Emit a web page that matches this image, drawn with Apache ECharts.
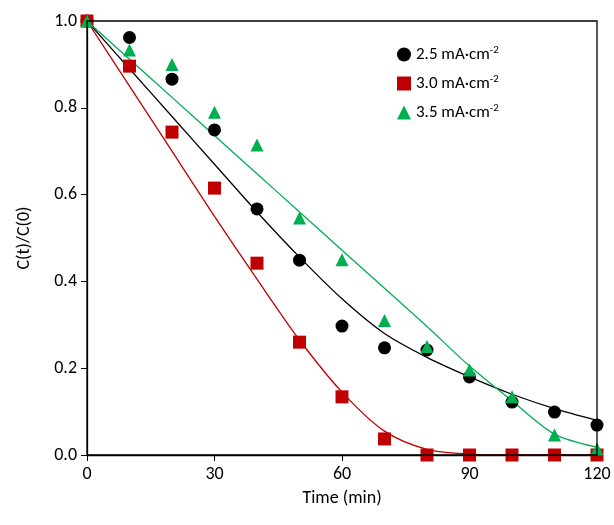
<!DOCTYPE html>
<html><head><meta charset="utf-8">
<script src="https://cdn.jsdelivr.net/npm/echarts@6/dist/echarts.min.js"></script>
<style>html,body{margin:0;background:#fff}#c{width:614px;height:525px}</style>
</head><body><div id="c"></div>
<script>
var times = [0, 10, 20, 30, 40, 50, 60, 70, 80, 90, 100, 110, 120];
var obs25 = [1.0, 0.962, 0.866, 0.749, 0.567, 0.449, 0.297, 0.247, 0.242, 0.180, 0.122, 0.099, 0.069];
var obs30 = [1.0, 0.896, 0.744, 0.615, 0.442, 0.260, 0.134, 0.037, 0.0, 0.0, 0.0, 0.0, 0.0];
var obs35 = [1.0, 0.933, 0.900, 0.790, 0.714, 0.546, 0.450, 0.310, 0.250, 0.196, 0.134, 0.046, 0.014];
var fit25 = [1.0, 0.89, 0.78, 0.67, 0.56, 0.456, 0.36, 0.28, 0.225, 0.18, 0.14, 0.107, 0.08];
var fit30 = [1.0, 0.85, 0.70, 0.55, 0.405, 0.265, 0.145, 0.055, 0.013, 0.002, 0.0, 0.0, 0.0];
var fit35 = [1.0, 0.912, 0.824, 0.736, 0.648, 0.56, 0.472, 0.384, 0.296, 0.205, 0.125, 0.048, 0.018];
var names = ['2.5', '3.0', '3.5'];
var colors = ['#000000', '#c00000', '#00b050'];
var symbols = ['circle', 'rect', 'triangle'];

function pairs(ys) { return times.map(function (t, i) { return [t, ys[i]]; }); }

var font = 'Carlito, Lato, sans-serif';
var obs = [obs25, obs30, obs35], fits = [fit25, fit30, fit35];
var series = [];
for (var k = 0; k < 3; k++) {
  series.push({ name: names[k], type: 'line', data: pairs(fits[k]), smooth: 0.3, showSymbol: false,
    lineStyle: { color: colors[k], width: 1.3 }, silent: true, z: 2 });
}
for (var k = 0; k < 3; k++) {
  series.push({ name: names[k] + ' mA·cm-2', type: 'scatter', data: pairs(obs[k]), symbol: symbols[k],
    symbolSize: 13, itemStyle: { color: colors[k], opacity: 1 }, z: 3 });
}

var chart = echarts.init(document.getElementById('c'));
chart.setOption({
  animation: false,
  grid: { left: 87, right: 17, top: 21, bottom: 70 },
  legend: {
    data: names.map(function (n) { return n + ' mA·cm-2'; }),
    orient: 'vertical', left: 392, top: 40, itemGap: 11, itemWidth: 14, itemHeight: 14,
    itemStyle: { opacity: 1 },
    formatter: function (n) { return '{a|' + n.replace('-2', '') + '}{s|-2}'; },
    textStyle: { rich: { a: { fontSize: 17, fontFamily: font, color: '#000' },
      s: { fontSize: 11, fontFamily: font, color: '#000', verticalAlign: 'top', padding: [0, 0, 8, 0] } } }
  },
  xAxis: {
    type: 'value', min: 0, max: 120, interval: 30, name: 'Time (min)', nameLocation: 'middle', nameGap: 34,
    nameTextStyle: { fontSize: 18, fontFamily: font, color: '#000' },
    axisLine: { onZero: false, lineStyle: { color: '#000', width: 1.3 } },
    axisTick: { length: 6, lineStyle: { color: '#000' } },
    axisLabel: { fontSize: 18, fontFamily: font, color: '#000', margin: 10 },
    splitLine: { show: false }
  },
  yAxis: {
    type: 'value', min: 0, max: 1, interval: 0.2, name: 'C(t)/C(0)', nameLocation: 'middle', nameGap: 54,
    nameTextStyle: { fontSize: 18, fontFamily: font, color: '#000' },
    axisLine: { show: true, onZero: false, lineStyle: { color: '#000', width: 1.3 } },
    axisTick: { show: true, length: 6, lineStyle: { color: '#000' } },
    axisLabel: { fontSize: 18, fontFamily: font, color: '#000', margin: 10, formatter: function (v) { return v.toFixed(1); } },
    splitLine: { show: false }
  },
  graphic: [{ type: 'rect', shape: { x: 87, y: 21, width: 510, height: 434 }, style: { fill: 'none', stroke: '#000', lineWidth: 1.3 }, z: 10, silent: true }],
  series: series
});
</script></body></html>
